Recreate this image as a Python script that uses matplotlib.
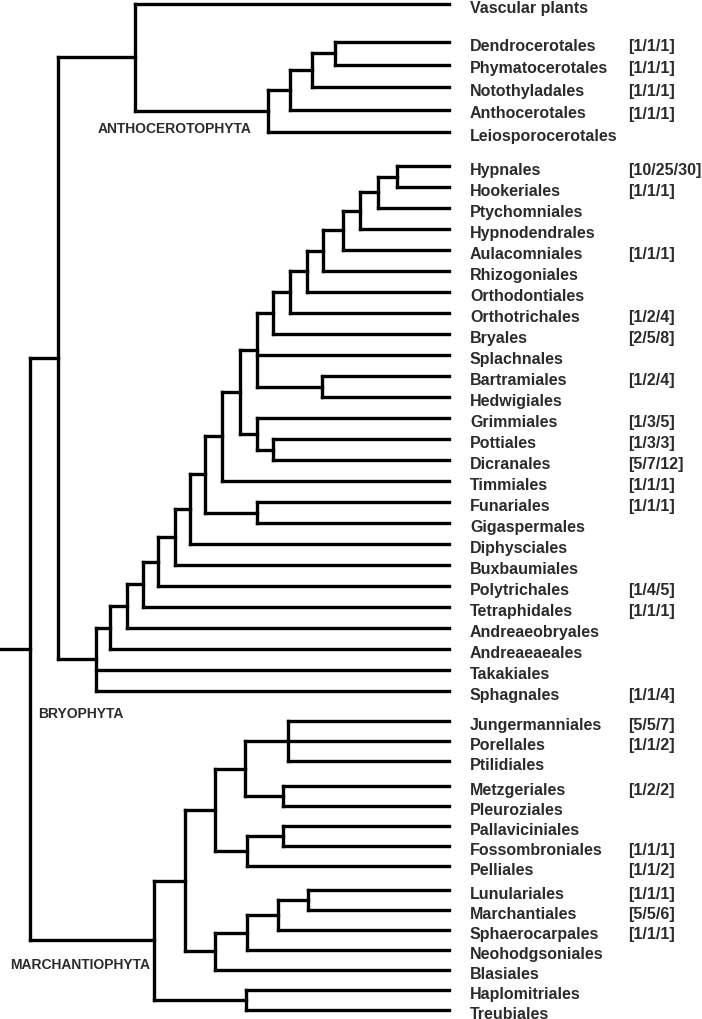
import matplotlib.pyplot as plt

plt.rcParams['font.family'] = ['Liberation Sans', 'DejaVu Sans']

# cladogram: (node depth, [children]); a leaf is an order name
anthocerotophyta = (268, [
    (290, [
        (312, [(335, ["Dendrocerotales", "Phymatocerotales"]), "Notothyladales"]),
        "Anthocerotales"]),
    "Leiosporocerotales"])

bryopsida_core = (257, [
    (273, [(290, [(307, [(323, [(343, [(360, [(378, [(397, ["Hypnales", "Hookeriales"]),
                                                       "Ptychomniales"]),
                                               "Hypnodendrales"]),
                                        "Aulacomniales"]),
                                 "Rhizogoniales"]),
                          "Orthodontiales"]),
                   "Orthotrichales"]),
           "Bryales"]),
    "Splachnales",
    (322, ["Bartramiales", "Hedwigiales"])])

bryophyta = (96, [
    (110, [(127, [(143, [(158, [(175, [(190, [(205, [
        (222, [(240, [bryopsida_core,
                      (257, ["Grimmiales", (273, ["Pottiales", "Dicranales"])])]),
               "Timmiales"]),
        (257, ["Funariales", "Gigaspermales"])]),
        "Diphysciales"]),
        "Buxbaumiales"]),
        "Polytrichales"]),
        "Tetraphidales"]),
        "Andreaeobryales"]),
        "Andreaeaeales"]),
    "Takakiales",
    "Sphagnales"])

marchantiophyta = (154, [
    (185, [
        (215, [
            (245, [(288, ["Jungermanniales", "Porellales", "Ptilidiales"]),
                   (283, ["Metzgeriales", "Pleuroziales"])]),
            (247, [(283, ["Pallaviciniales", "Fossombroniales"]), "Pelliales"])]),
        (215, [
            (247, [(278, [(308, ["Lunulariales", "Marchantiales"]), "Sphaerocarpales"]),
                   "Neohodgsoniales"]),
            "Blasiales"])]),
    (246, ["Haplomitriales", "Treubiales"])])

tree = (30, [(58, [(135, ["Vascular plants", anthocerotophyta]), bryophyta]), marchantiophyta])

counts = {
    "Dendrocerotales": "[1/1/1]", "Phymatocerotales": "[1/1/1]",
    "Notothyladales": "[1/1/1]", "Anthocerotales": "[1/1/1]",
    "Hypnales": "[10/25/30]", "Hookeriales": "[1/1/1]", "Aulacomniales": "[1/1/1]",
    "Orthotrichales": "[1/2/4]", "Bryales": "[2/5/8]", "Bartramiales": "[1/2/4]",
    "Grimmiales": "[1/3/5]", "Pottiales": "[1/3/3]", "Dicranales": "[5/7/12]",
    "Timmiales": "[1/1/1]", "Funariales": "[1/1/1]", "Polytrichales": "[1/4/5]",
    "Tetraphidales": "[1/1/1]", "Sphagnales": "[1/1/4]",
    "Jungermanniales": "[5/5/7]", "Porellales": "[1/1/2]", "Metzgeriales": "[1/2/2]",
    "Fossombroniales": "[1/1/1]", "Pelliales": "[1/1/2]", "Lunulariales": "[1/1/1]",
    "Marchantiales": "[5/5/6]", "Sphaerocarpales": "[1/1/1]",
}

clade_names = ["ANTHOCEROTOPHYTA", "BRYOPHYTA", "MARCHANTIOPHYTA"]

# vertical layout (pixels): gap before a block and row height inside it
breaks = {
    "Vascular plants": (5, 22.5),
    "Dendrocerotales": (38, 22.5),
    "Hypnales": (34, 21.0),
    "Jungermanniales": (30, 20.0),
    "Metzgeriales": (25, 20.0),
    "Lunulariales": (24, 20.0),
}
TIP_X = 449


def leaves(node):
    if isinstance(node, str):
        return [node]
    out = []
    for k in node[1]:
        out += leaves(k)
    return out


tip_y = {}
y, h = 0, 21.0
for name in leaves(tree):
    if name in breaks:
        gap, h = breaks[name]
        y += gap
    else:
        y += h
    tip_y[name] = y

fig = plt.figure(figsize=(7.02, 10.20), dpi=100)
ax = fig.add_axes([0, 0, 1, 1])
ax.set_xlim(0, 702)
ax.set_ylim(1020, 0)
ax.axis('off')

line_kw = dict(color='black', lw=2.4, solid_capstyle='projecting')


def draw(node):
    if isinstance(node, str):
        return TIP_X, tip_y[node]
    x, kids = node
    pts = [draw(k) for k in kids]
    ys = [p[1] for p in pts]
    for cx, cy in pts:
        ax.plot([x, cx], [cy, cy], **line_kw)
    ax.plot([x, x], [ys[0], ys[-1]], **line_kw)
    return x, (ys[0] + ys[-1]) / 2


rx, ry = draw(tree)
ax.plot([0, rx], [ry, ry], **line_kw)

txt_kw = dict(fontsize=11.5, fontweight='bold', color='#2b2b2b', va='baseline')
for name, ty in tip_y.items():
    ax.text(470, ty + 8, name, **txt_kw)
    if name in counts:
        ax.text(628, ty + 8, counts[name], **txt_kw)

lab_kw = dict(fontsize=10, fontweight='bold', color='#2b2b2b', va='baseline')
ax.text(252, 133, clade_names[0], ha='right', **lab_kw)
ax.text(38, 718, clade_names[1], ha='left', **lab_kw)
ax.text(10, 969, clade_names[2], ha='left', **lab_kw)

fig.savefig('out.png', dpi=100)
